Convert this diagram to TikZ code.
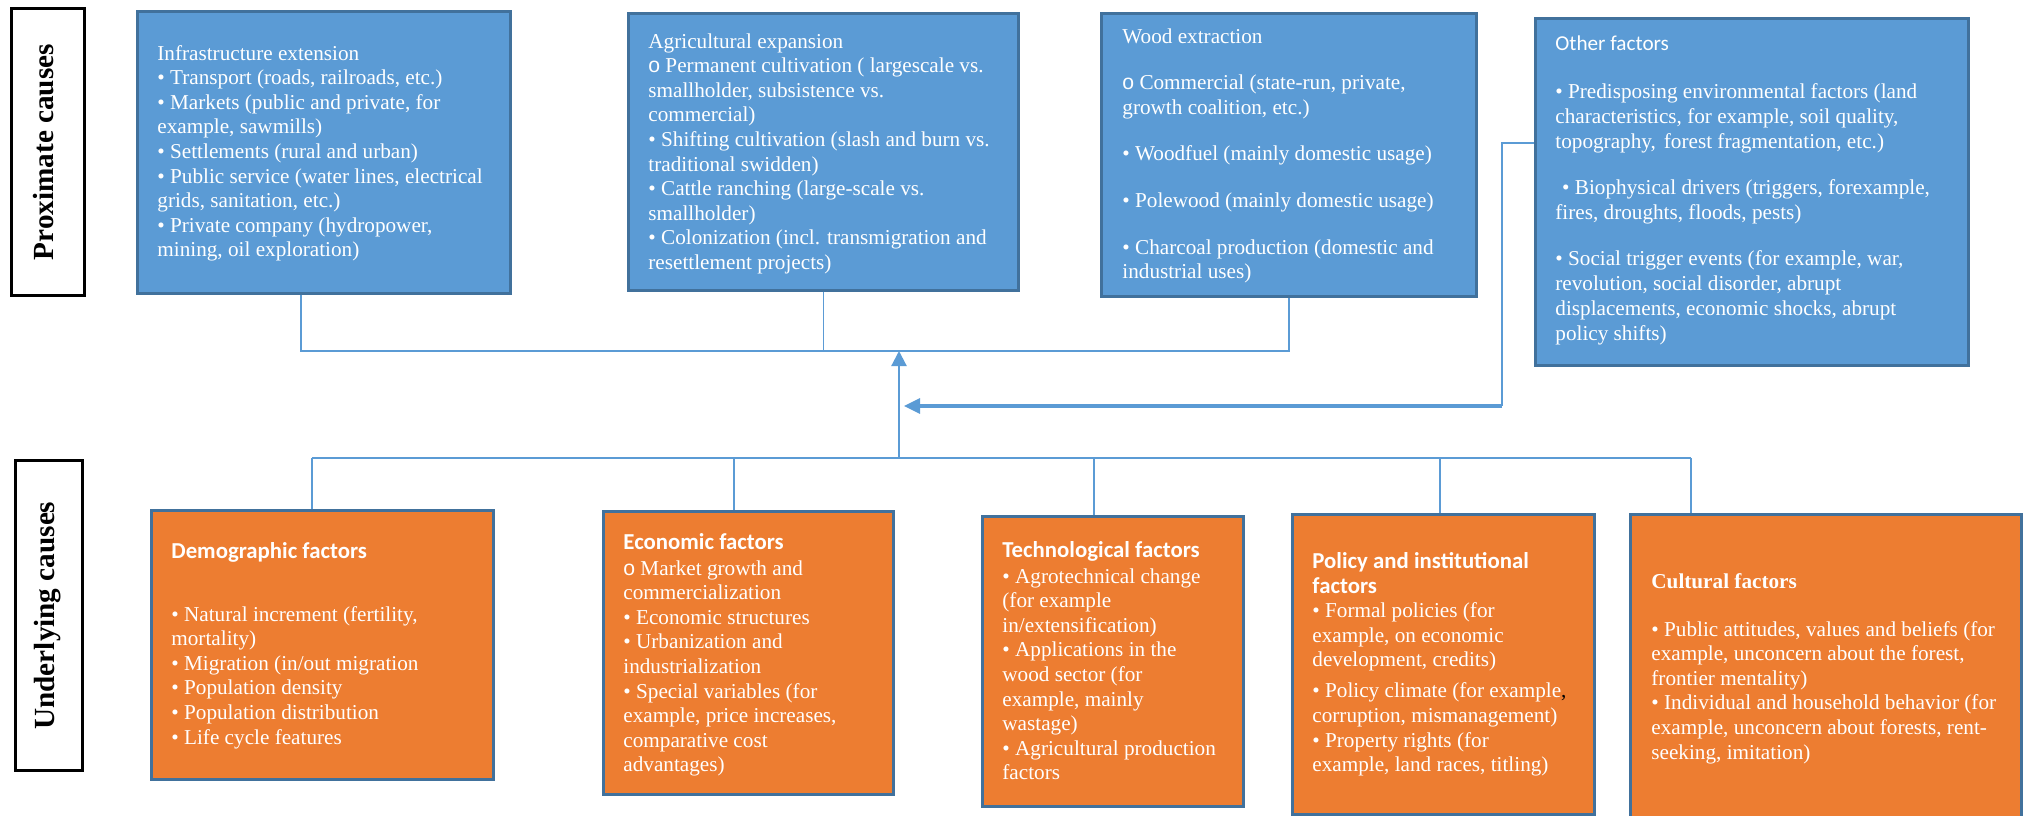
\documentclass[tikz,border=0pt]{standalone}
\usepackage{fontspec}
\setmainfont{Liberation Serif}
\newfontfamily\calibri{Carlito}
\newfontfamily\arialfam{Liberation Sans}
\usetikzlibrary{arrows.meta,calc}

\definecolor{boxblue}{HTML}{5B9BD5}
\definecolor{edgeblue}{HTML}{41719C}
\definecolor{boxorange}{HTML}{ED7D31}
\definecolor{linkblue}{HTML}{5B9BD5}

\newcommand\bodyfont{\fontsize{10.6}{12.3}\selectfont}
\newcommand\headfont{\calibri\bfseries\fontsize{11.4}{12.3}\selectfont}
\newcommand\obul{{\arialfam o}}

\tikzset{
  causebox/.style={draw=edgeblue, line width=1.3pt, fill=boxblue, inner sep=0pt, anchor=north west},
  driverbox/.style={draw=edgeblue, line width=1.3pt, fill=boxorange, inner sep=0pt, anchor=north west},
  tagbox/.style={draw=black, line width=1.6pt, fill=white, inner sep=0pt, anchor=north west},
  txt/.style={text=white, inner sep=0pt, anchor=base west, font=\bodyfont},
  tagtext/.style={rotate=90, font=\bfseries\fontsize{14.6}{17}\selectfont, inner sep=0pt},
  link/.style={draw=linkblue, line width=0.7pt},
  mainflow/.style={draw=linkblue, line width=1.1pt, -{Triangle[length=7.5pt,width=7.5pt]}},
  feedflow/.style={draw=linkblue, line width=1.6pt, -{Triangle[length=8pt,width=7.5pt]}},
}

\begin{document}
\begin{tikzpicture}[x=0.5pt,y=-0.5pt]
\useasboundingbox (0,0) rectangle (2026,815);
\clip (0,0) rectangle (2026,815);
\fill[white] (0,0) rectangle (2026,815);

% ---------- row labels ----------
\node[tagbox, minimum width=36.5pt, minimum height=143.5pt] (prox) at (10,7) {};
\node[tagtext] (proxT) at ($(prox.center)+(-5,0)$) {Proximate causes};
\node[tagbox, minimum width=33.5pt, minimum height=155pt] (under) at (14,459) {};
\node[tagtext] (underT) at ($(under.center)+(-2,0)$) {Underlying causes};

% ---------- proximate causes ----------
\node[causebox, minimum width=186.5pt, minimum height=141pt] (infra) at (136,10) {};
\node[txt] (infraT) at (157,60) {\begin{tabular}[t]{@{}l@{}}
Infrastructure extension\\
• Transport (roads, railroads, etc.)\\
• Markets (public and private, for\\
example, sawmills)\\
• Settlements (rural and urban)\\
• Public service (water lines, electrical\\
grids, sanitation, etc.)\\
• Private company (hydropower,\\
mining, oil exploration)
\end{tabular}};

\node[causebox, minimum width=195pt, minimum height=138.5pt] (agri) at (627,12) {};
\node[txt] (agriT) at (648,48) {\begin{tabular}[t]{@{}l@{}}
Agricultural expansion\\
\obul{} Permanent cultivation ( largescale vs.\\
smallholder, subsistence vs.\\
commercial)\\
• Shifting cultivation (slash and burn vs.\\
traditional swidden)\\
• Cattle ranching (large-scale vs.\\
smallholder)\\
• Colonization (incl. transmigration and\\
resettlement projects)
\end{tabular}};

\node[causebox, minimum width=187.5pt, minimum height=141.5pt] (wood) at (1100,12) {};
\node[txt] (woodT) at (1122,43) {\begin{tabular}[t]{@{}l@{}}
Wood extraction\\[11pt]
\obul{} Commercial (state-run, private,\\
growth coalition, etc.)\\[11pt]
• Woodfuel (mainly domestic usage)\\[11pt]
• Polewood (mainly domestic usage)\\[11pt]
• Charcoal production (domestic and\\
industrial uses)
\end{tabular}};

\node[causebox, minimum width=216.5pt, minimum height=173.5pt] (other) at (1534,17) {};
\node[txt, font=\fontsize{10.6}{12.5}\selectfont] (otherT) at (1555,50) {\begin{tabular}[t]{@{}l@{}}
{\calibri Other factors}\\[11.5pt]
• Predisposing environmental factors (land\\
characteristics, for example, soil quality,\\
topography,\hspace{4pt}forest fragmentation, etc.)\\[10.5pt]
\hspace*{3.4pt}• Biophysical drivers (triggers, forexample,\\
fires, droughts, floods, pests)\\[10.5pt]
• Social trigger events (for example, war,\\
revolution, social disorder, abrupt\\
displacements, economic shocks, abrupt\\
policy shifts)
\end{tabular}};

% ---------- underlying causes ----------
\node[driverbox, minimum width=171pt, minimum height=134.5pt] (demo) at (150,509) {};
\node[txt] (demoT) at (171,558) {\begin{tabular}[t]{@{}l@{}}
{\headfont Demographic factors}\\[19.2pt]
• Natural increment (fertility,\\
mortality)\\
• Migration (in/out migration\\
• Population density\\
• Population distribution\\
• Life cycle features
\end{tabular}};

\node[driverbox, minimum width=145pt, minimum height=141.5pt] (econ) at (602,510) {};
\node[txt] (econT) at (623,549) {\begin{tabular}[t]{@{}l@{}}
{\headfont Economic factors}\\[0.7pt]
\obul{} Market growth and\\
commercialization\\
• Economic structures\\
• Urbanization and\\
industrialization\\
• Special variables (for\\
example, price increases,\\
comparative cost\\
advantages)
\end{tabular}};

\node[driverbox, minimum width=130.5pt, minimum height=145pt] (tech) at (981,515) {};
\node[txt] (techT) at (1002,557) {\begin{tabular}[t]{@{}l@{}}
{\headfont Technological factors}\\[0.7pt]
• Agrotechnical change\\
(for example\\
in/extensification)\\
• Applications in the\\
wood sector (for\\
example, mainly\\
wastage)\\
• Agricultural production\\
factors
\end{tabular}};

\node[driverbox, minimum width=151pt, minimum height=150pt] (policy) at (1291,513) {};
\node[txt] (policyT) at (1312,568) {\begin{tabular}[t]{@{}l@{}}
{\headfont Policy and institutional}\\[0.2pt]
{\headfont factors}\\
• Formal policies (for\\
example, on economic\\
development, credits)\\[3.2pt]
• Policy climate (for example{\color{black},}\\
corruption, mismanagement)\\
• Property rights (for\\
example, land races, titling)
\end{tabular}};

\node[driverbox, minimum width=195.5pt, minimum height=158.5pt] (cult) at (1629,513) {};
\node[txt] (cultT) at (1651,588) {\begin{tabular}[t]{@{}l@{}}
{\bfseries Cultural factors}\\[11.7pt]
• Public attitudes, values and beliefs (for\\
example, unconcern about the forest,\\
frontier mentality)\\
• Individual and household behavior (for\\
example, unconcern about forests, rent-\\
seeking, imitation)
\end{tabular}};

% ---------- connectors between the proximate causes ----------
\coordinate (tbus) at (0,351);
\coordinate (istem) at ($(infra.south west)+(165,0)$);
\draw[link] (istem) -- (istem |- tbus) -- (wood.south |- tbus) -- (wood.south);
\draw[link] (agri.south) -- (agri.south |- tbus);

% ---------- connectors between the underlying causes ----------
\coordinate (bbus) at (0,458);
\coordinate (dstem) at ($(demo.north west)+(162,0)$);
\coordinate (estem) at ($(econ.north west)+(132,0)$);
\coordinate (tstem) at ($(tech.north west)+(113,0)$);
\coordinate (pstem) at ($(policy.north west)+(149,0)$);
\coordinate (cstem) at ($(cult.north west)+(62,0)$);
\draw[link] (dstem |- bbus) -- (cstem |- bbus);
\foreach \s in {dstem,estem,tstem,pstem,cstem}
  \draw[link] (\s) -- (\s |- bbus);

% ---------- underlying causes drive the proximate ones ----------
\coordinate (hub) at (899,458);
\draw[mainflow] (hub) -- (hub |- tbus);

% ---------- other factors feed back into the main link ----------
\coordinate (obend) at (1502,143);
\coordinate (ocorner) at (1502,406);
\coordinate (otip) at (904,406);
\draw[link] (other.west |- obend) -- (obend) -- (ocorner);
\draw[feedflow] (ocorner) -- (otip);
\end{tikzpicture}
\end{document}
